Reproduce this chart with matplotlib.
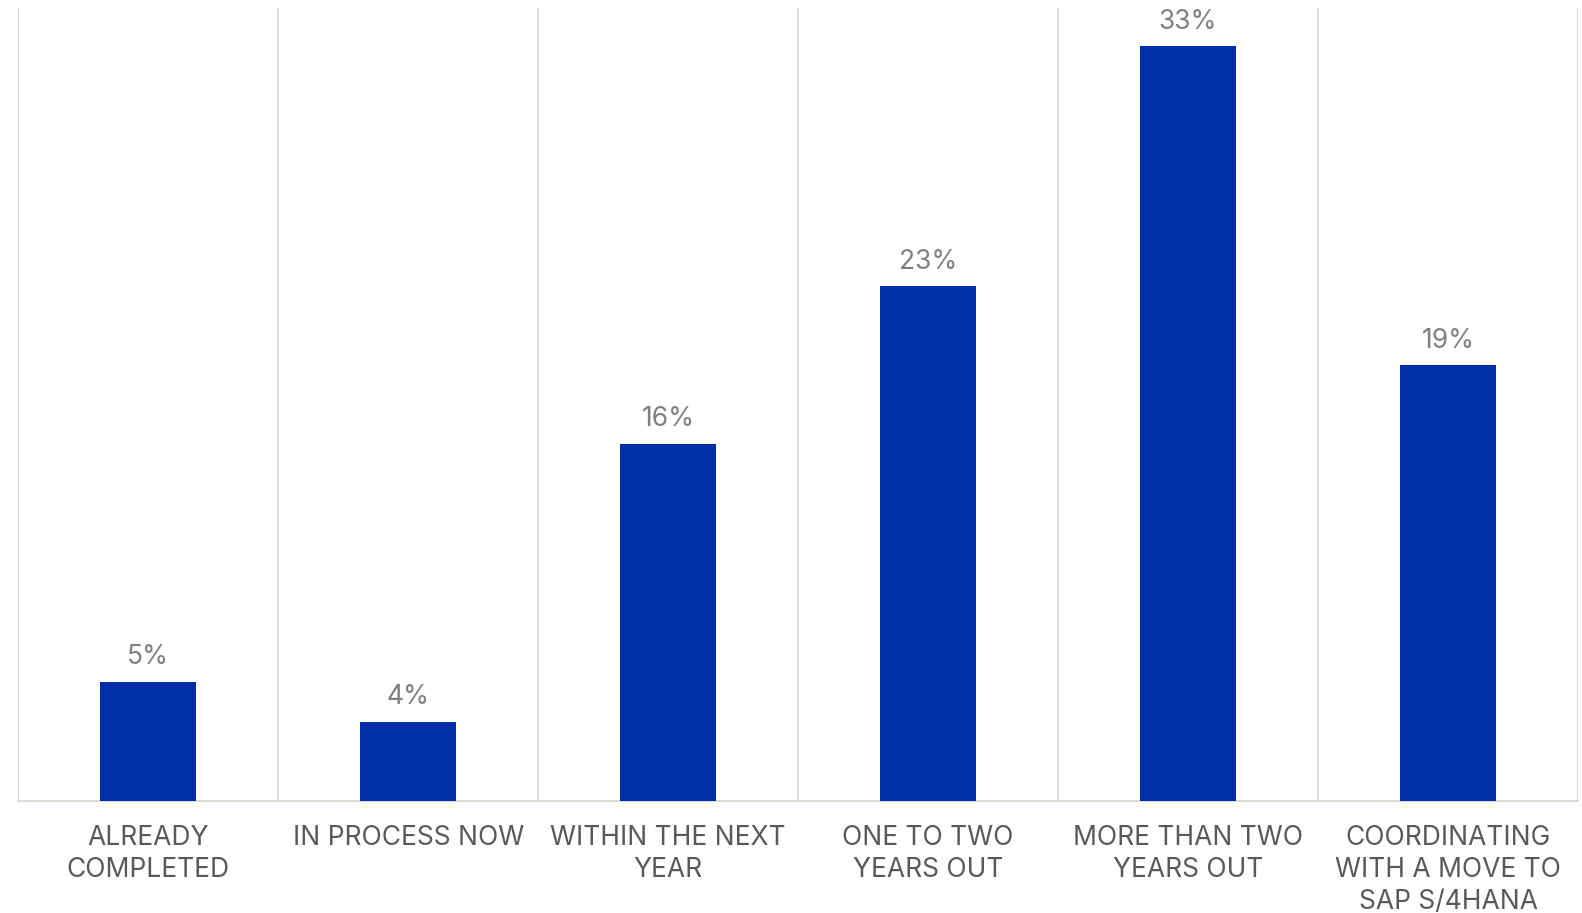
import matplotlib
matplotlib.use("Agg")
import matplotlib.pyplot as plt
import numpy as np

categories = ["ALREADY\nCOMPLETED", "IN PROCESS NOW", "WITHIN THE NEXT\nYEAR",
              "ONE TO TWO\nYEARS OUT", "MORE THAN TWO\nYEARS OUT",
              "COORDINATING\nWITH A MOVE TO\nSAP S/4HANA"]
values = [5.2, 3.45, 15.6, 22.5, 33.0, 19.05]
value_labels = ["5%", "4%", "16%", "23%", "33%", "19%"]

plt.rcParams['font.family'] = ['Inter', 'DejaVu Sans']

fig = plt.figure(figsize=(15.82, 9.13), dpi=100)
ax = fig.add_axes([0.0115, 0.1227, 0.986, 0.8683])

x = np.arange(len(categories))
bars = ax.bar(x, values, width=0.37, color="#002DA8", zorder=3)
for b, lab in zip(bars, value_labels):
    ax.annotate(lab, (b.get_x() + b.get_width() / 2, b.get_height()),
                xytext=(0, 8.5), textcoords="offset points",
                ha="center", va="bottom", fontsize=19, color="#7f7f7f")

ax.set_xlim(-0.5, len(categories) - 0.5)
ax.set_ylim(0, 34.67)
ax.set_xticks(x)
ax.set_xticklabels(categories, fontsize=19, color="#595959", linespacing=1.32)
ax.tick_params(axis="x", length=0, pad=17)
ax.set_yticks([])
ax.set_xticks(np.arange(-0.5, len(categories), 1.0), minor=True)
ax.tick_params(axis="x", which="minor", length=0)
ax.grid(axis="x", which="minor", color="#dedbd3", linewidth=1.5, zorder=0)
ax.grid(axis="x", which="major", visible=False)
for s in ["top", "left", "right"]:
    ax.spines[s].set_visible(False)
ax.spines["bottom"].set_color("#dedbd3")
ax.spines["bottom"].set_linewidth(1.5)

fig.savefig("out.png", dpi=100)
